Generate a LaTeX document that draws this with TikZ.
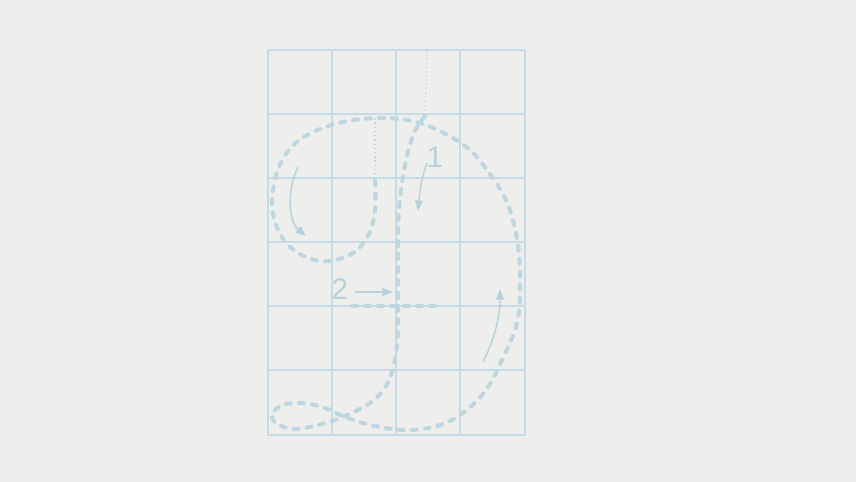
\documentclass[tikz,border=0pt]{standalone}
\usepackage{fontspec}
\setsansfont{Liberation Sans}
\usetikzlibrary{arrows.meta, positioning}
\definecolor{bgcol}{HTML}{EEEEEC}
\definecolor{gridcol}{HTML}{C6DBE3}
\definecolor{strokecol}{HTML}{BDD6DF}
\definecolor{guidecol}{HTML}{B7D1DB}

\begin{document}
\begin{tikzpicture}[
    x=0.02cm, y=-0.02cm,
    gridline/.style={draw=gridcol, line width=0.75pt},
    stroke/.style={draw=strokecol, line width=2.3pt, line cap=round,
        dash pattern=on 2.8pt off 4.6pt},
    dotline/.style={draw=strokecol, line width=0.7pt,
        dash pattern=on 0.8pt off 1.6pt},
    guide/.style={draw=guidecol, line width=0.8pt,
        -{Triangle[length=6pt, width=4.5pt]}},
    num/.style={font=\sffamily\fontsize{17}{17}\selectfont,
        text=guidecol, inner sep=0pt}
]
\fill[bgcol] (0,0) rectangle (856,482);
\useasboundingbox (0,0) rectangle (856,482);

% ---------- GRID (4 x 6)
\foreach \gx in {268,332,396,460,525}
    \draw[gridline] (\gx,50) -- (\gx,435);
\foreach \gy in {50,114,178,242,306,370,435}
    \draw[gridline] (268,\gy) -- (525,\gy);

% ---------- HELPER LINES
\draw[dotline] (427,50) -- (425,116);
\draw[dotline] (375,114) -- (375,178);

% ---------- STROKE 1
\draw[stroke] plot[smooth, tension=0.6] coordinates {
    (425,116) (414,133) (405,165) (399,210) (398,260) (398,306)
    (397,345) (390,378) (374,400) (345,416) (318,425) (295,429)
    (277,424) (272,414) (283,405) (303,403) (325,408) (345,417)
    (375,426) (412,430) (450,421) (483,394) (503,358) (517,323)
    (520,287) (518,245) (508,205) (490,174) (465,146) (423,124)
    (380,118) (335,124) (298,141) (279,167) (272,200) (276,225)
    (288,245) (308,258) (330,261) (353,253) (368,236) (375,210)
    (375,178)};

% ---------- STROKE 2
\draw[stroke] (352,306) -- (443,306);

% ---------- ORDER LABELS
\node[num] (one) at (435,157) {1};
\node[num] (two) at (340,289) {2};

% ---------- DIRECTION ARROWS
\coordinate (onestart) at (427,163);
\coordinate (oneend) at (418,211);
\coordinate (loopstart) at (298,167);
\coordinate (loopend) at (306,236);
\coordinate (risestart) at (483,362);
\coordinate (riseend) at (500,289);
\coordinate (twostart) at (355,292);
\coordinate (twoend) at (393,292);

\draw[guide] (onestart) .. controls (421,182) .. (oneend);
\draw[guide] (loopstart) .. controls (286,192) and (289,222) .. (loopend);
\draw[guide] (risestart) .. controls (494,340) and (500,318) .. (riseend);
\draw[guide] (twostart) -- (twoend);

\end{tikzpicture}
\end{document}
